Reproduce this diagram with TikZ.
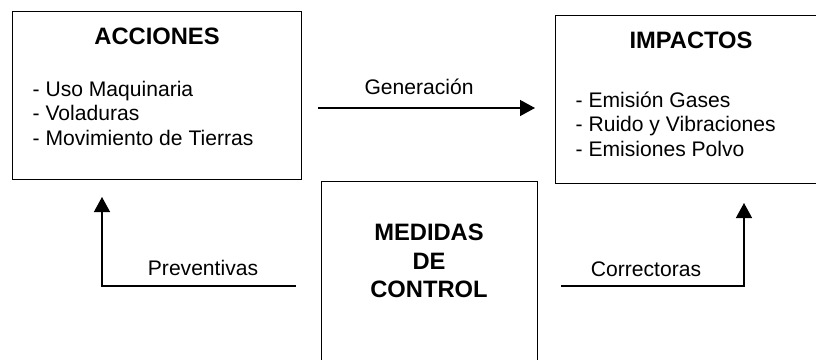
\documentclass[tikz,border=0pt]{standalone}
\usepackage{fontspec}
\setmainfont{Liberation Sans}
\usetikzlibrary{arrows.meta}
\begin{document}
\begin{tikzpicture}[x=0.02cm,y=-0.02cm,line width=0.8pt,
    >={Triangle[width=0.32cm,length=0.3cm]}]

    %----------------------
    % Estilos
    %----------------------
    \tikzset{
        caja/.style={draw,line width=0.8pt,anchor=north west,inner sep=0pt},
        titulo/.style={font=\fontsize{13.5}{16.2}\selectfont\bfseries,inner sep=0pt,align=center},
        lista/.style={font=\fontsize{12}{13.95}\selectfont,align=left,anchor=west,inner sep=0pt},
        etiqueta/.style={font=\fontsize{12}{14}\selectfont,anchor=base,inner sep=0pt}
    }

    % Marco (las cajas de la derecha y de abajo se salen)
    \useasboundingbox (0,0) rectangle (816,359);
    \clip (0,0) rectangle (816,359);

    %----------------------
    % Cajas
    %----------------------
    \node[caja,minimum width=289*0.02cm,minimum height=168*0.02cm] (acc) at (12,11) {};
    \node[caja,minimum width=290*0.02cm,minimum height=168*0.02cm] (imp) at (555,15) {};
    \node[caja,minimum width=216*0.02cm,minimum height=200*0.02cm] (med) at (321,181) {};

    % Textos de ACCIONES
    \node[titulo] (accT) at (157,36) {ACCIONES};
    \node[lista] (accL) at (32,113.4) {- Uso Maquinaria\\- Voladuras\\- Movimiento de Tierras};

    % Textos de IMPACTOS
    \node[titulo] (impT) at (691,40.5) {IMPACTOS};
    \node[lista] (impL) at (575,124.2) {- Emisión Gases\\- Ruido y Vibraciones\\- Emisiones Polvo};

    % Texto de MEDIDAS
    \node[titulo] (medT) at (429,261) {MEDIDAS\\DE\\CONTROL};

    %----------------------
    % Flechas
    %----------------------
    \coordinate (genIni) at (318,108);
    \coordinate (genFin) at (535,108);
    \draw[->] (genIni) -- (genFin);
    \node[etiqueta] (genE) at (419,94.3) {Generación};

    \coordinate (prevIni) at (296,286);
    \coordinate (prevFin) at (102,197);
    \draw[->] (prevIni) -| (prevFin);
    \node[etiqueta] (prevE) at (203,275) {Preventivas};

    \coordinate (corIni) at (561,286);
    \coordinate (corFin) at (744,203);
    \draw[->] (corIni) -| (corFin);
    \node[etiqueta] (corE) at (646,276.7) {Correctoras};

\end{tikzpicture}
\end{document}
